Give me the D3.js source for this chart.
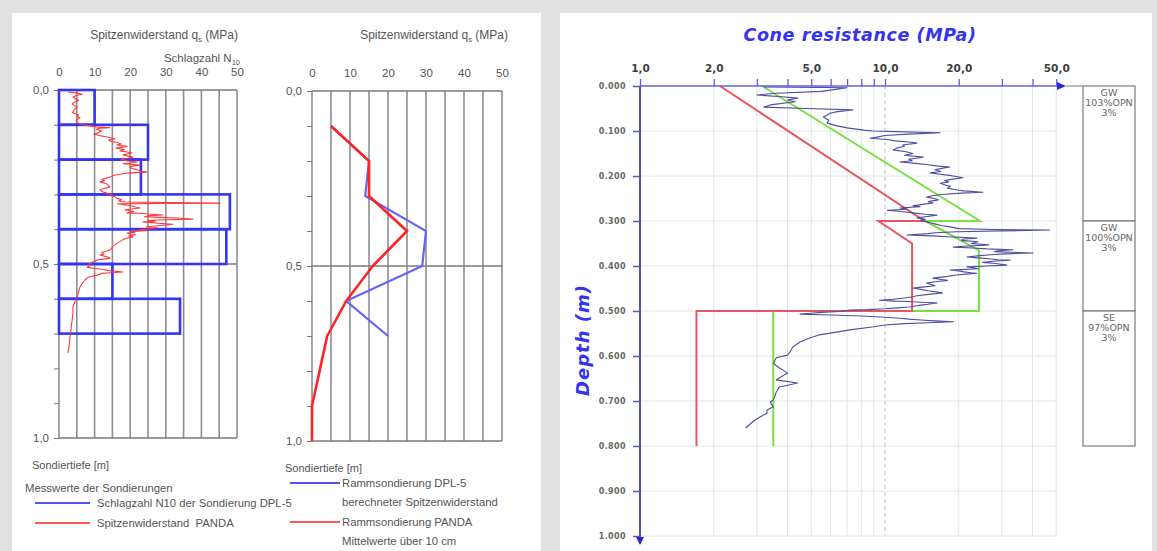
<!DOCTYPE html>
<html>
<head>
<meta charset="utf-8">
<script src="https://cdn.jsdelivr.net/npm/d3@7"></script>
<style>
  html, body { margin: 0; padding: 0; background: #e1e1e1; }
  svg { display: block; }
</style>
</head>
<body>
<svg id="chart" width="1157" height="551"></svg>
<script>
// ---------- Left panel: DPL-5 blow counts and PANDA cone resistance ----------
const qsTicks = [0, 10, 20, 30, 40, 50];
const qsGrid = [0, 5, 10, 15, 20, 25, 30, 35, 40, 45, 50];
const depthMajor = [0, 0.5, 1.0];
const depthMinor = [0, 0.1, 0.2, 0.3, 0.4, 0.5, 0.6, 0.7, 0.8, 0.9, 1.0];

// Schlagzahl N10 per 10 cm interval (interval top depth, blow count)
const blowTop = [0.0, 0.1, 0.2, 0.3, 0.4, 0.5, 0.6];
const blowN10 = [10, 25, 23, 48, 47, 15, 34];

// PANDA cone resistance profile: [depth m, qs MPa]
const pandaProfile = [
  [0.005,2.5],[0.009,5.0],[0.012,6.5],[0.016,4.8],[0.02,4.0],[0.025,4.6],[0.03,5.5],[0.035,4.4],
  [0.04,3.7],[0.045,4.3],[0.05,5.1],[0.054,4.6],[0.058,4.2],[0.065,3.8],[0.072,5.5],[0.076,5.0],
  [0.08,5.9],[0.084,5.2],[0.088,4.8],[0.095,5.3],[0.1,6.5],[0.103,8.7],[0.106,10.5],[0.108,14.3],
  [0.11,11.5],[0.113,10.5],[0.117,12.0],[0.12,11.5],[0.124,10.8],[0.127,9.8],[0.131,11.5],[0.135,13.5],
  [0.138,14.8],[0.14,15.7],[0.144,14.0],[0.147,14.3],[0.151,16.4],[0.155,17.5],[0.158,16.2],[0.162,19.1],
  [0.165,17.8],[0.167,16.0],[0.171,18.3],[0.175,17.1],[0.178,19.2],[0.181,20.5],[0.184,19.0],[0.187,18.0],
  [0.19,19.6],[0.193,20.8],[0.197,19.0],[0.2,17.5],[0.204,19.5],[0.207,22.0],[0.21,20.0],[0.212,18.0],
  [0.214,20.5],[0.216,22.8],[0.218,21.0],[0.221,19.9],[0.225,20.4],[0.228,21.5],[0.232,22.6],[0.236,24.7],
  [0.239,19.1],[0.242,17.0],[0.245,15.5],[0.25,14.3],[0.254,13.1],[0.257,12.0],[0.261,12.8],[0.264,11.5],
  [0.267,12.6],[0.27,13.5],[0.275,13.9],[0.279,14.3],[0.283,12.6],[0.286,11.5],[0.29,11.9],[0.293,12.4],
  [0.297,13.6],[0.3,15.0],[0.304,14.6],[0.307,15.7],[0.311,16.2],[0.315,17.5],[0.319,16.8],[0.322,18.5],
  [0.325,45.2],[0.327,16.5],[0.33,18.6],[0.332,20.0],[0.336,21.4],[0.339,22.8],[0.342,20.5],[0.345,18.5],
  [0.349,21.0],[0.353,19.1],[0.355,23.5],[0.357,26.0],[0.359,29.2],[0.361,25.5],[0.364,24.0],[0.366,28.5],
  [0.368,33.0],[0.371,37.6],[0.373,30.0],[0.375,25.0],[0.377,27.0],[0.379,23.6],[0.381,26.0],[0.383,28.0],
  [0.386,32.0],[0.388,30.3],[0.391,27.0],[0.393,24.5],[0.396,27.5],[0.398,26.0],[0.4,24.0],[0.402,22.8],
  [0.404,24.5],[0.407,20.0],[0.409,21.3],[0.411,19.1],[0.414,20.0],[0.416,21.5],[0.419,19.6],[0.422,20.8],
  [0.426,19.0],[0.43,18.0],[0.435,17.2],[0.44,16.3],[0.445,15.8],[0.45,15.0],[0.455,14.8],[0.46,14.3],
  [0.464,13.0],[0.467,12.0],[0.471,12.6],[0.474,11.5],[0.478,13.0],[0.483,14.3],[0.486,12.5],[0.488,11.0],
  [0.491,10.2],[0.494,9.6],[0.497,9.0],[0.5,8.5],[0.504,8.8],[0.509,7.9],[0.512,9.5],[0.515,12.0],
  [0.519,14.0],[0.523,18.0],[0.525,14.5],[0.527,12.0],[0.532,10.7],[0.535,9.2],[0.539,8.0],[0.546,7.3],
  [0.556,6.5],[0.566,5.9],[0.58,5.5],[0.595,5.1],[0.61,4.4],[0.624,3.9],[0.64,3.9],[0.661,3.7],
  [0.685,3.4],[0.71,3.1],[0.73,2.9],[0.756,2.5]
];

// Derived cone resistance, 10 cm averages
const dplDepth = [0.1, 0.2, 0.3, 0.4, 0.5, 0.6, 0.7];
const dplQs = [5, 15, 14, 30, 29, 9, 20];
const pandaMeanDepth = [0.1, 0.2, 0.3, 0.4, 0.5, 0.6, 0.7, 0.8, 0.9, 1.0];
const pandaMeanQs = [5, 15, 15, 25, 16, 9, 4, 2, 0, 0];

// ---------- Right panel: cone resistance on log scale ----------
const logTicks = [1, 2, 3, 4, 5, 6, 7, 8, 9, 10, 20, 30, 40, 50];
const logLabelled = [1, 2, 5, 10, 20, 50];
const depthTicks = [0, 0.1, 0.2, 0.3, 0.4, 0.5, 0.6, 0.7, 0.8, 0.9, 1.0];

// measured cone resistance: [depth m, qc MPa]
const coneProfile = [
  [0.002,3.2],[0.004,7.0],[0.008,6.2],[0.012,5.5],[0.016,3.6],[0.02,3.0],[0.024,3.8],[0.027,4.4],
  [0.031,4.0],[0.035,4.3],[0.042,3.4],[0.047,3.2],[0.05,4.8],[0.053,7.4],[0.057,6.4],[0.06,6.0],
  [0.065,5.8],[0.069,5.6],[0.076,5.9],[0.082,5.8],[0.088,6.3],[0.093,7.0],[0.098,8.2],[0.1,8.9],
  [0.102,12.0],[0.104,16.8],[0.107,12.5],[0.11,10.0],[0.113,9.4],[0.116,8.7],[0.119,10.2],[0.122,11.0],
  [0.125,12.8],[0.127,13.5],[0.131,11.8],[0.134,12.0],[0.138,11.2],[0.142,10.8],[0.146,12.2],[0.15,13.0],
  [0.154,12.0],[0.158,14.3],[0.161,13.2],[0.163,12.5],[0.166,12.9],[0.169,11.5],[0.172,13.4],[0.175,15.0],
  [0.178,16.5],[0.18,18.4],[0.183,17.0],[0.186,16.0],[0.19,16.9],[0.193,15.3],[0.196,16.8],[0.198,18.0],
  [0.201,19.5],[0.204,20.8],[0.207,18.9],[0.21,17.5],[0.213,18.2],[0.216,16.8],[0.22,17.6],[0.223,18.5],
  [0.227,18.0],[0.231,19.7],[0.233,21.0],[0.236,25.1],[0.238,20.5],[0.241,17.0],[0.244,15.6],[0.247,14.8],
  [0.25,15.9],[0.253,16.5],[0.257,15.0],[0.26,15.7],[0.263,14.2],[0.266,13.0],[0.268,13.9],[0.271,11.5],
  [0.274,12.3],[0.276,10.2],[0.279,11.6],[0.282,13.0],[0.285,14.5],[0.287,16.3],[0.29,14.9],[0.293,13.5],
  [0.296,14.6],[0.299,14.0],[0.302,14.8],[0.304,15.3],[0.307,16.1],[0.31,17.0],[0.313,18.4],[0.317,20.0],
  [0.319,28.0],[0.32,47.0],[0.322,30.0],[0.324,19.6],[0.326,16.0],[0.328,15.0],[0.331,12.3],[0.333,15.5],
  [0.335,18.0],[0.338,23.7],[0.34,21.0],[0.343,20.5],[0.346,24.0],[0.35,22.5],[0.353,26.5],[0.356,21.0],
  [0.358,19.0],[0.36,23.0],[0.362,26.0],[0.364,33.3],[0.366,29.0],[0.368,28.0],[0.37,35.0],[0.371,40.2],
  [0.373,31.0],[0.375,27.0],[0.377,24.5],[0.38,21.6],[0.382,24.0],[0.384,26.5],[0.386,29.0],[0.387,32.4],
  [0.389,28.5],[0.392,25.0],[0.394,27.5],[0.396,30.0],[0.398,31.4],[0.4,26.0],[0.402,21.6],[0.404,23.0],
  [0.406,24.0],[0.408,20.5],[0.409,18.4],[0.411,20.0],[0.413,21.0],[0.415,22.5],[0.416,23.7],[0.418,21.5],
  [0.42,19.5],[0.423,18.0],[0.427,15.7],[0.43,17.0],[0.432,18.0],[0.435,16.0],[0.438,14.8],[0.441,15.5],
  [0.444,16.0],[0.447,14.2],[0.449,13.0],[0.452,14.0],[0.455,15.0],[0.458,16.4],[0.46,17.2],[0.463,15.0],
  [0.466,13.5],[0.469,12.8],[0.471,12.0],[0.474,10.8],[0.476,9.5],[0.478,11.0],[0.479,12.5],[0.481,14.5],
  [0.482,16.3],[0.485,15.0],[0.487,14.0],[0.489,13.3],[0.491,12.6],[0.493,11.2],[0.495,10.0],[0.497,8.5],
  [0.498,7.2],[0.501,6.5],[0.503,5.5],[0.505,5.0],[0.507,4.5],[0.509,6.0],[0.511,8.0],[0.514,10.0],
  [0.516,11.5],[0.518,12.5],[0.52,14.0],[0.522,16.0],[0.524,19.0],[0.526,15.0],[0.528,12.0],[0.531,10.0],
  [0.535,9.0],[0.542,7.2],[0.553,5.4],[0.562,4.8],[0.569,4.5],[0.58,4.2],[0.591,4.1],[0.598,4.0],
  [0.604,3.6],[0.61,3.55],[0.616,3.5],[0.621,3.6],[0.626,3.7],[0.632,3.85],[0.638,4.0],[0.645,3.8],
  [0.653,3.6],[0.66,4.4],[0.665,4.0],[0.669,3.7],[0.675,3.65],[0.68,3.6],[0.69,3.55],[0.698,3.5],
  [0.702,3.4],[0.708,3.45],[0.713,3.5],[0.72,3.3],[0.727,3.3],[0.735,3.1],[0.745,2.9],[0.76,2.7]
];

const lowerDepth = [0, 0.3, 0.3, 0.35, 0.5, 0.5, 0.8];
const lowerQc = [2.12, 14.5, 9.4, 12.9, 12.9, 1.7, 1.7];
const upperDepth = [0, 0.3, 0.3, 0.365, 0.5, 0.5, 0.8];
const upperQc = [3.15, 24.4, 14.6, 24.2, 24.2, 3.5, 3.5];

// Soil layers beside the profile
const layerTop = [0, 0.3, 0.5];
const layerBottom = [0.3, 0.5, 0.8];
const layerSoil = ["GW", "GW", "SE"];
const layerCompaction = ["103%OPN", "100%OPN", "97%OPN"];
const layerFines = ["3%", "3%", "3%"];

// ---------- drawing ----------
const svg = d3.select("#chart");
const SANS = "'Liberation Sans', Arial, sans-serif";
const WIDE = "'DejaVu Sans', Verdana, sans-serif";

svg.append("rect").attr("width", 1157).attr("height", 551).attr("fill", "#e1e1e1");
svg.append("rect").attr("x", 12).attr("y", 13).attr("width", 529).attr("height", 538).attr("fill", "#ffffff");
svg.append("rect").attr("x", 560).attr("y", 13).attr("width", 592).attr("height", 538).attr("fill", "#ffffff");

const comma = d => d3.format(".1f")(d).replace(".", ",");

function linearPanel(x, y, titleX) {
  const g = svg.append("g");
  // vertical grid every 5 MPa
  g.selectAll("line.vg").data(qsGrid).join("line")
    .attr("x1", d => x(d)).attr("x2", d => x(d))
    .attr("y1", y(0)).attr("y2", y(1))
    .attr("stroke", "#8d8d98").attr("stroke-width", 1.6);
  // horizontal lines at 0, 0.5, 1.0
  g.selectAll("line.hg").data(depthMajor).join("line")
    .attr("x1", x(0)).attr("x2", x(50))
    .attr("y1", d => y(d)).attr("y2", d => y(d))
    .attr("stroke", "#7a7a7a").attr("stroke-width", 1.4);
  // minor ticks on the depth axis
  const minor = g.append("g").attr("transform", `translate(${x(0)},0)`)
    .call(d3.axisLeft(y).tickValues(depthMinor).tickSize(5).tickFormat(""));
  minor.select(".domain").remove();
  minor.selectAll("line").attr("stroke", "#777");
  // depth labels
  const yl = g.append("g").attr("transform", `translate(${x(0)},0)`)
    .call(d3.axisLeft(y).tickValues(depthMajor).tickSize(0).tickPadding(10).tickFormat(comma));
  yl.select(".domain").remove();
  yl.selectAll("text").attr("font-family", SANS).attr("font-size", 11.5).attr("fill", "#555");
  // qs tick labels
  const xl = g.append("g").attr("transform", `translate(0,${y(0) - 14})`)
    .call(d3.axisTop(x).tickValues(qsTicks).tickSize(0).tickPadding(0));
  xl.select(".domain").remove();
  xl.selectAll("text").attr("font-family", SANS).attr("font-size", 11.5).attr("fill", "#555");
  // title
  const t = g.append("text").attr("x", titleX).attr("y", 39).attr("text-anchor", "end")
    .attr("font-family", SANS).attr("font-size", 12).attr("fill", "#555");
  t.append("tspan").text("Spitzenwiderstand q");
  t.append("tspan").attr("font-size", 7.5).attr("dy", 3).text("s");
  t.append("tspan").attr("dy", -3).text(" (MPa)");
  // depth caption
  g.append("text").attr("x", x(0) - 27).attr("y", y(1) + 31)
    .attr("font-family", SANS).attr("font-size", 11).attr("fill", "#555")
    .text("Sondiertiefe [m]");
  return g;
}

// Panel 1
const x1 = d3.scaleLinear().domain([0, 50]).range([59, 237]);
const y1 = d3.scaleLinear().domain([0, 1]).range([90, 438]);
const g1 = linearPanel(x1, y1, 238);
const s1 = g1.append("text").attr("x", 240).attr("y", 62).attr("text-anchor", "end")
  .attr("font-family", SANS).attr("font-size", 11.5).attr("fill", "#555");
s1.append("tspan").text("Schlagzahl N");
s1.append("tspan").attr("font-size", 7.5).attr("dy", 3).text("10");

const blows = d3.zip(blowTop, blowN10);
g1.selectAll("rect.blow").data(blows).join("rect")
  .attr("x", x1(0)).attr("y", d => y1(d[0]))
  .attr("width", d => x1(d[1]) - x1(0))
  .attr("height", d => y1(d[0] + 0.1) - y1(d[0]))
  .attr("fill", "none").attr("stroke", "#3434f4").attr("stroke-width", 2.6);

const line1 = d3.line().x(d => x1(d[1])).y(d => y1(d[0]));
g1.append("path").datum(pandaProfile).attr("d", line1)
  .attr("fill", "none").attr("stroke", "#ff3a3a").attr("stroke-width", 1.1)
  .attr("stroke-linejoin", "round");

// Panel 2
const x2 = d3.scaleLinear().domain([0, 50]).range([312, 502]);
const y2 = d3.scaleLinear().domain([0, 1]).range([91, 441]);
const g2 = linearPanel(x2, y2, 508);
const line2 = d3.line().x(d => x2(d[1])).y(d => y2(d[0]));
g2.append("path").datum(d3.zip(dplDepth, dplQs)).attr("d", line2)
  .attr("fill", "none").attr("stroke", "#6464f8").attr("stroke-width", 2.2);
g2.append("path").datum(d3.zip(pandaMeanDepth, pandaMeanQs)).attr("d", line2)
  .attr("fill", "none").attr("stroke", "#ff2424").attr("stroke-width", 2.6)
  .attr("stroke-linejoin", "round");

// Legends of the left panel
const leg = svg.append("g").attr("font-family", SANS).attr("font-size", 11.3).attr("fill", "#555");
leg.append("text").attr("x", 25).attr("y", 492).text("Messwerte der Sondierungen");
const legendRows = [
  { x0: 35, x1: 90, y: 503, color: "#5050ff", lines: ["Schlagzahl N10 der Sondierung DPL-5"] },
  { x0: 35, x1: 90, y: 523, color: "#ff5a5a", lines: ["Spitzenwiderstand  PANDA"] },
  { x0: 290, x1: 340, y: 483, color: "#5050ff", lines: ["Rammsondierung DPL-5", "berechneter Spitzenwiderstand"] },
  { x0: 290, x1: 340, y: 522, color: "#ff5a5a", lines: ["Rammsondierung PANDA", "Mittelwerte über 10 cm"] }
];
legendRows.forEach(r => {
  leg.append("line").attr("x1", r.x0).attr("x2", r.x1).attr("y1", r.y).attr("y2", r.y)
    .attr("stroke", r.color).attr("stroke-width", 2.2);
  r.lines.forEach((s, i) => {
    leg.append("text").attr("x", r.x1 + (r.x0 < 100 ? 7 : 2)).attr("y", r.y + 4 + i * 19)
      .style("white-space", "pre").text(s);
  });
});

// Panel 3: log scale cone resistance
const x3 = d3.scaleLog().domain([1, 50]).range([640, 640 + 245 * Math.log10(50)]);
const y3 = d3.scaleLinear().domain([0, 1]).range([86, 536]);
const g3 = svg.append("g");

// grid
g3.selectAll("line.vg").data(logTicks.slice(1)).join("line")
  .attr("x1", d => x3(d)).attr("x2", d => x3(d)).attr("y1", y3(0)).attr("y2", y3(1))
  .attr("stroke", d => d === 10 ? "#b8bcbc" : "#dde8e2").attr("stroke-width", 1)
  .attr("stroke-dasharray", d => d === 10 ? "4,3" : null);
g3.selectAll("line.hg").data(depthTicks.slice(1)).join("line")
  .attr("x1", x3(1)).attr("x2", x3(50)).attr("y1", d => y3(d)).attr("y2", d => y3(d))
  .attr("stroke", "#dde8e2").attr("stroke-width", 1);

// reference lines
const line3 = d3.line().x(d => x3(d[1])).y(d => y3(d[0]));
g3.append("path").datum(d3.zip(upperDepth, upperQc)).attr("d", line3)
  .attr("fill", "none").attr("stroke", "#78e040").attr("stroke-width", 2);
g3.append("path").datum(d3.zip(lowerDepth, lowerQc)).attr("d", line3)
  .attr("fill", "none").attr("stroke", "#e85560").attr("stroke-width", 2);
// measured profile
g3.append("path").datum(coneProfile).attr("d", line3)
  .attr("fill", "none").attr("stroke", "#4e4ea0").attr("stroke-width", 1.1)
  .attr("stroke-linejoin", "round");

// top axis
const xa = g3.append("g").attr("transform", `translate(0,${y3(0)})`)
  .call(d3.axisTop(x3).tickValues(logTicks).tickSize(7).tickPadding(7)
    .tickFormat(d => logLabelled.includes(d) ? comma(d) : ""));
xa.select(".domain").remove();
xa.selectAll("line").attr("stroke", "#5a5ae8").attr("stroke-width", 1.3);
xa.selectAll("text").attr("font-family", WIDE).attr("font-weight", "bold")
  .attr("font-size", 10.5).attr("fill", "#3c3c3c");
g3.append("line").attr("x1", x3(1)).attr("x2", 1060).attr("y1", y3(0)).attr("y2", y3(0))
  .attr("stroke", "#6060ee").attr("stroke-width", 1.6);
g3.append("path").attr("d", `M1057,${y3(0) - 4}L1066,${y3(0)}L1057,${y3(0) + 4}Z`).attr("fill", "#2828d0");

// left axis
const ya = g3.append("g").attr("transform", `translate(${x3(1)},0)`)
  .call(d3.axisLeft(y3).tickValues(depthTicks).tickSize(7).tickPadding(7).tickFormat(d3.format(".3f")));
ya.select(".domain").remove();
ya.selectAll("line").attr("stroke", "#5a5aa8").attr("stroke-width", 1.5);
ya.selectAll("text").attr("font-family", WIDE).attr("font-weight", "bold")
  .attr("font-size", 8).attr("letter-spacing", 0.4).attr("fill", "#666");
g3.append("line").attr("x1", x3(1)).attr("x2", x3(1)).attr("y1", y3(0)).attr("y2", 540)
  .attr("stroke", "#55559e").attr("stroke-width", 2);
g3.append("path").attr("d", `M${x3(1) - 4},537L${x3(1)},545L${x3(1) + 4},537Z`).attr("fill", "#2828d0");

// titles
g3.append("text").attr("x", 860).attr("y", 41).attr("text-anchor", "middle")
  .attr("font-family", WIDE).attr("font-weight", "bold").attr("font-style", "italic")
  .attr("font-size", 17.5).attr("letter-spacing", 0.6).attr("fill", "#3434f0").text("Cone resistance (MPa)");
g3.append("text").attr("transform", "translate(589,340) rotate(-90)").attr("text-anchor", "middle")
  .attr("font-family", WIDE).attr("font-weight", "bold").attr("font-style", "italic")
  .attr("font-size", 18).attr("letter-spacing", 1).attr("fill", "#3434f0").text("Depth (m)");

// soil column
g3.append("line").attr("x1", 1066).attr("x2", 1083).attr("y1", y3(0)).attr("y2", y3(0))
  .attr("stroke", "#777").attr("stroke-width", 1);
const layers = d3.zip(layerTop, layerBottom, layerSoil, layerCompaction, layerFines);
const lg = g3.selectAll("g.layer").data(layers).join("g");
lg.append("rect").attr("x", 1083).attr("width", 52)
  .attr("y", d => y3(d[0])).attr("height", d => y3(d[1]) - y3(d[0]))
  .attr("fill", "#fff").attr("stroke", "#7a7a7a").attr("stroke-width", 1.2);
[2, 3, 4].forEach((k, i) => {
  lg.append("text").attr("x", 1109).attr("y", d => y3(d[0]) + 10 + i * 10)
    .attr("text-anchor", "middle").attr("font-family", WIDE).attr("font-size", 9.5)
    .attr("fill", "#666").text(d => d[k]);
});
</script>
</body>
</html>
